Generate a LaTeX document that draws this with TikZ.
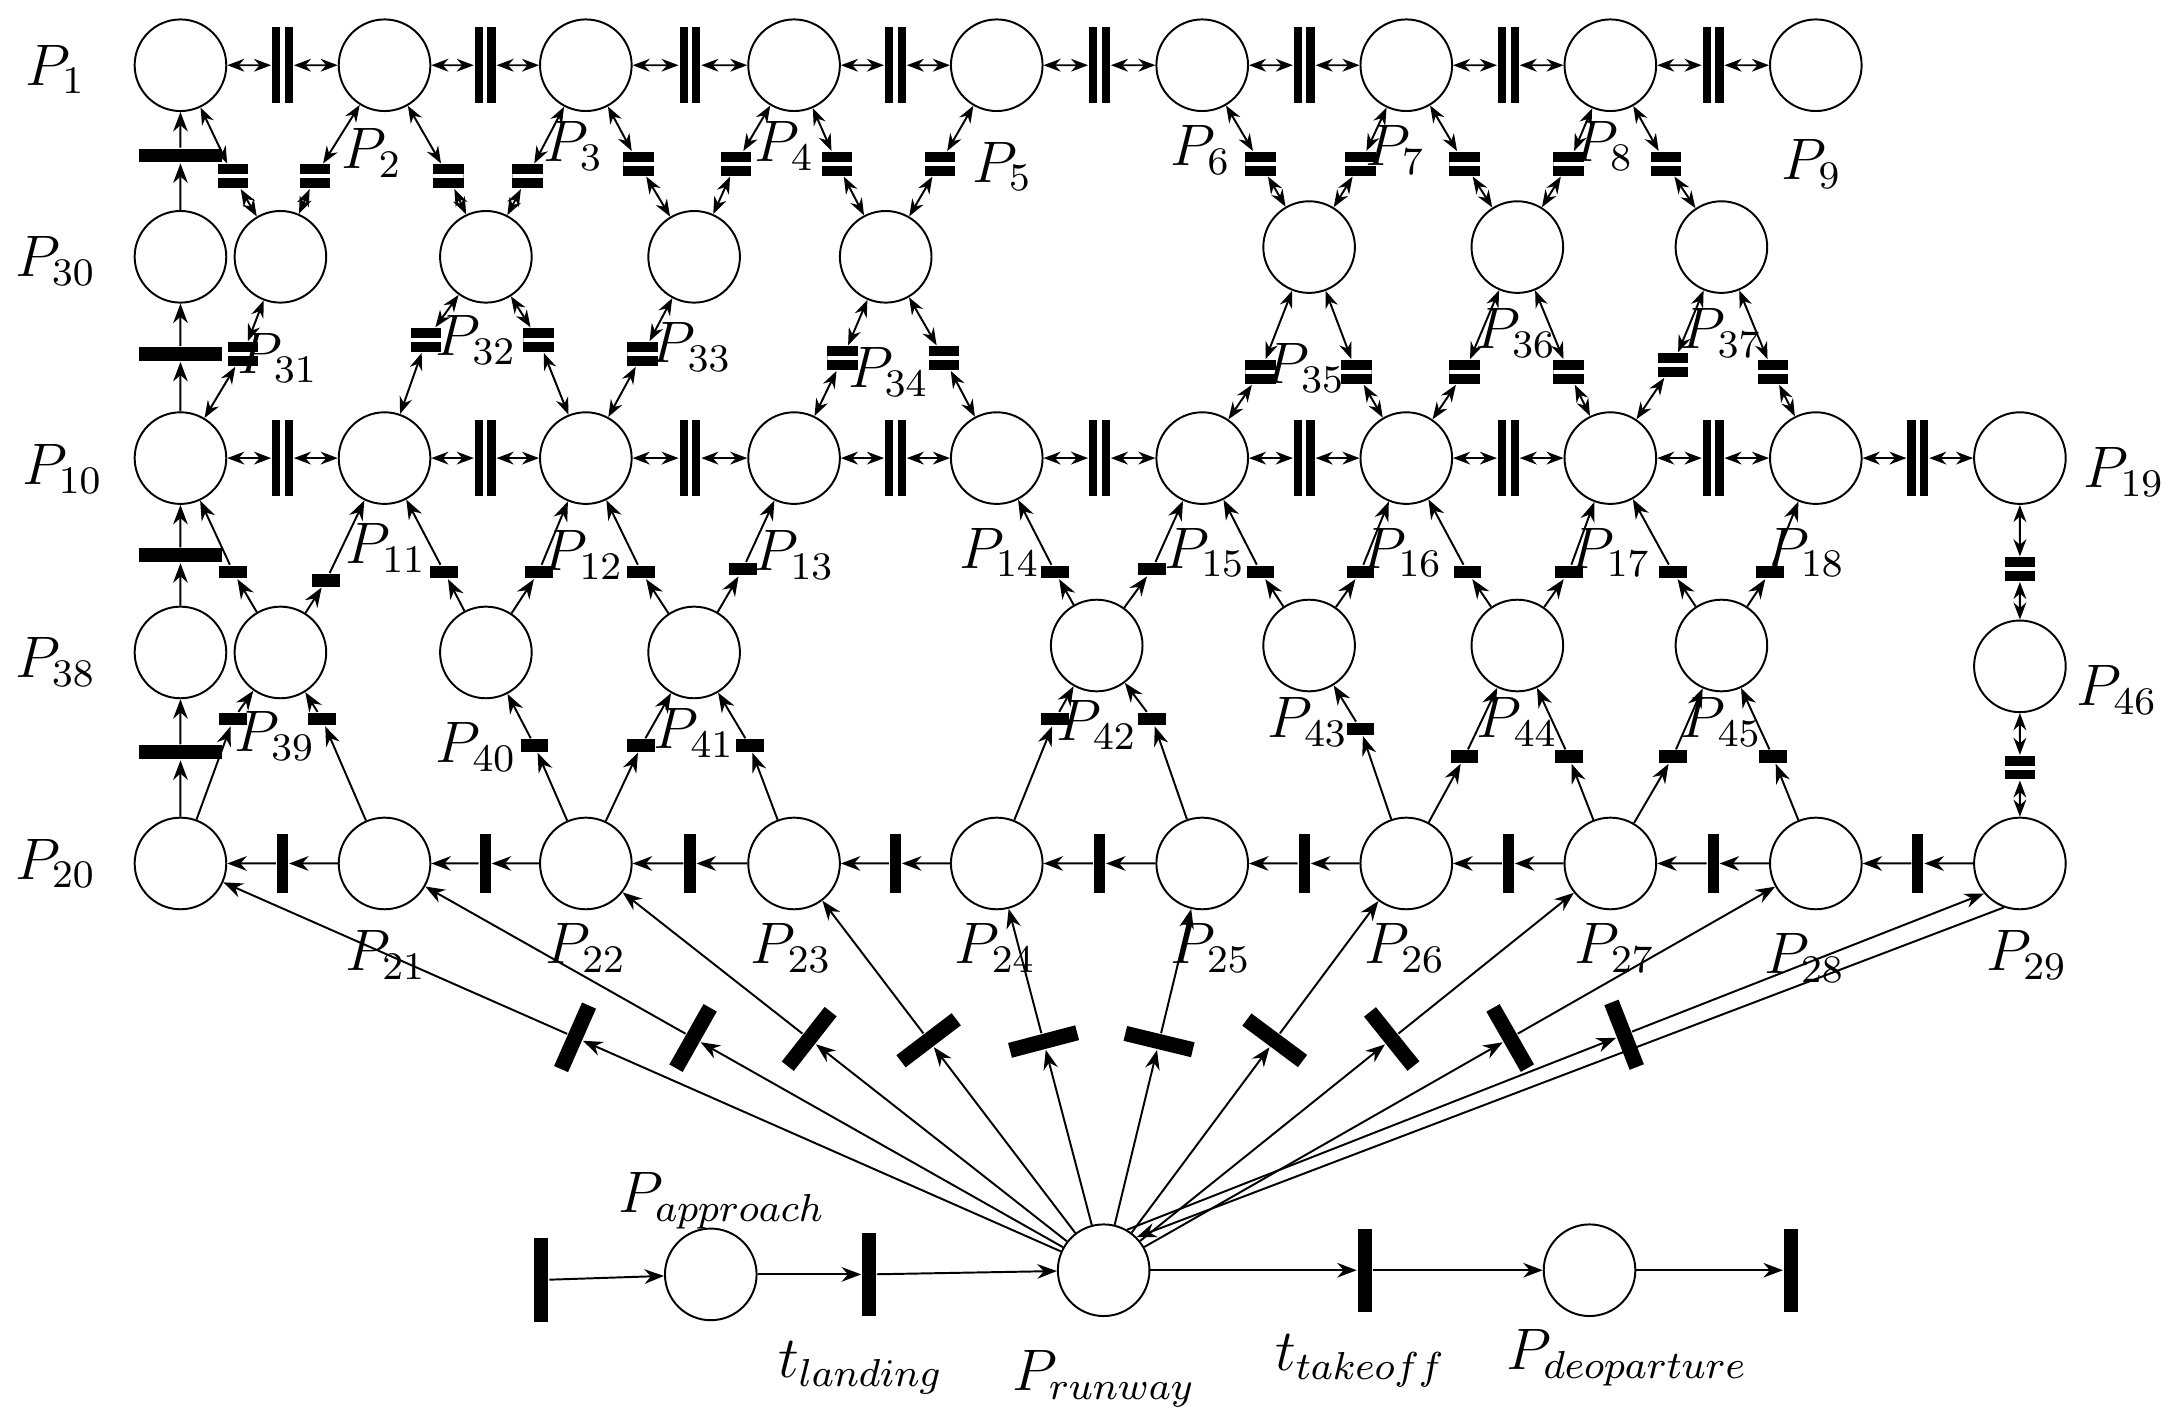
\documentclass[tikz,border=0pt]{standalone}
\usetikzlibrary{arrows.meta,calc}
\tikzset{
  place/.style={circle,draw,thin,minimum size=0.66cm,inner sep=0pt},
  tdbl/.style={rectangle,fill=black,minimum width=0.15cm,minimum height=0.55cm,inner sep=0pt,
    path picture={\draw[white,line width=0.9pt] (path picture bounding box.north) -- (path picture bounding box.south);}},
  tsq/.style={rectangle,fill=black,minimum width=0.22cm,minimum height=0.17cm,inner sep=0pt,
    path picture={\draw[white,line width=0.8pt] (path picture bounding box.west) -- (path picture bounding box.east);}},
  tsm/.style={rectangle,fill=black,minimum width=0.2cm,minimum height=0.09cm,inner sep=0pt},
  twide/.style={rectangle,fill=black,minimum width=0.6cm,minimum height=0.1cm,inner sep=0pt},
  tbar/.style={rectangle,fill=black,minimum width=0.08cm,minimum height=0.42cm,inner sep=0pt},
  fbar/.style={rectangle,fill=black,minimum width=0.11cm,minimum height=0.5cm,inner sep=0pt},
  bbar/.style={rectangle,fill=black,minimum width=0.1cm,minimum height=0.6cm,inner sep=0pt},
  lbl/.style={font=\large},
  arc/.style={thin,-{Stealth[length=4pt]}},
  barc/.style={thin,{Stealth[length=3.5pt]}-{Stealth[length=3.5pt]}}
}
\begin{document}
\begin{tikzpicture}
    \useasboundingbox (0,-10.2) rectangle (15.66,0);
    % Places
    \foreach \i/\x in {1/130,2/277,3/422,4/572,5/718,6/866,7/1013,8/1160,9/1308}
        \node[place] (p\i) at (\x/100,-0.47) {};
    \foreach \i/\x in {10/130,11/277,12/422,13/572,14/718,15/866,16/1013,17/1160,18/1308,19/1455}
        \node[place] (p\i) at (\x/100,-3.30) {};
    \foreach \i/\x in {20/130,21/277,22/422,23/572,24/718,25/866,26/1013,27/1160,28/1308,29/1455}
        \node[place] (p\i) at (\x/100,-6.22) {};
    \foreach \i/\x/\y in {30/130/185,31/202/185,32/350/185,33/500/185,34/638/185,35/943/178,36/1093/178,37/1240/178,
        38/130/470,39/202/470,40/350/470,41/500/470,42/790/465,43/943/465,44/1093/465,45/1240/465,46/1455/480}
        \node[place] (p\i) at (\x/100,-\y/100) {};
    \node[place] (pa) at (5.12,-9.18) {};
    \node[place] (pr) at (7.95,-9.15) {};
    \node[place] (pd) at (11.45,-9.15) {};

    % Horizontal rows
    \foreach \a/\b in {1/2,2/3,3/4,4/5,5/6,6/7,7/8,8/9,10/11,11/12,12/13,13/14,14/15,15/16,16/17,17/18,18/19} {
        \node[tdbl] (h\a) at ($(p\a)!0.5!(p\b)$) {};
        \draw[barc] (p\a) -- (h\a);
        \draw[barc] (h\a) -- (p\b);
    }
    \foreach \a/\b in {20/21,21/22,22/23,23/24,24/25,25/26,26/27,27/28,28/29} {
        \node[tbar] (r\a) at ($(p\a)!0.5!(p\b)$) {};
        \draw[arc] (p\b) -- (r\a);
        \draw[arc] (r\a) -- (p\a);
    }

    % Left column
    \node[twide] (v1) at (1.30,-1.12) {};
    \node[twide] (v2) at (1.30,-2.55) {};
    \node[twide] (v3) at (1.30,-4.00) {};
    \node[twide] (v4) at (1.30,-5.42) {};
    \draw[arc] (p30) -- (v1); \draw[arc] (v1) -- (p1);
    \draw[arc] (p10) -- (v2); \draw[arc] (v2) -- (p30);
    \draw[arc] (p38) -- (v3); \draw[arc] (v3) -- (p10);
    \draw[arc] (p20) -- (v4); \draw[arc] (v4) -- (p38);

    % Upper diamonds
    \foreach \u/\d/\x/\y in {1/31/168/127,2/31/227/127,2/32/323/127,3/32/380/127,3/33/460/118,4/33/530/118,
        4/34/603/118,5/34/677/118,6/35/908/118,7/35/980/118,7/36/1055/118,8/36/1130/118,8/37/1200/118,
        31/10/175/255,32/11/307/245,32/12/388/245,33/12/463/255,34/13/607/258,34/14/680/258,
        35/15/908/268,35/16/977/268,36/16/1055/268,36/17/1130/268,37/17/1205/263,37/18/1277/268} {
        \node[tsq] (d\u-\d) at (\x/100,-\y/100) {};
        \draw[barc] (p\u) -- (d\u-\d);
        \draw[barc] (d\u-\d) -- (p\d);
    }

    % Lower diamonds
    \foreach \u/\d/\x/\y in {10/39/168/412,11/39/235/418,11/40/320/412,12/40/388/412,12/41/462/412,13/41/535/410,
        14/42/760/412,15/42/830/410,15/43/908/412,16/43/980/412,16/44/1057/412,17/44/1130/412,17/45/1205/412,18/45/1275/412,
        39/20/168/518,39/21/232/518,40/22/385/537,41/22/462/537,41/23/540/537,42/24/760/518,42/25/830/518,
        43/26/980/525,44/26/1055/545,44/27/1130/545,45/27/1205/545,45/28/1277/545} {
        \node[tsm] (l\u-\d) at (\x/100,-\y/100) {};
        \draw[arc] (p\d) -- (l\u-\d);
        \draw[arc] (l\u-\d) -- (p\u);
    }

    % Right column
    \node[tsq] (d19-46) at (14.55,-4.10) {};
    \node[tsq] (d46-29) at (14.55,-5.53) {};
    \draw[barc] (p19) -- (d19-46); \draw[barc] (d19-46) -- (p46);
    \draw[barc] (p46) -- (d46-29); \draw[barc] (d46-29) -- (p29);

    % Runway fan
    \foreach \i in {20,...,28} {
        \path (pr) -- node[fbar,sloped,pos=0.58] (f\i) {} (p\i);
        \draw[arc] (pr) -- (f\i);
        \draw[arc] (f\i) -- (p\i);
    }
    \path (pr.60) -- node[fbar,sloped,pos=0.58] (f29) {} (p29.220);
    \draw[arc] (pr.60) -- (f29);
    \draw[arc] (f29) -- (p29.220);
    \draw[arc] (p29.250) -- (pr.45);

    % Bottom line
    \node[bbar] (b1) at (3.90,-9.22) {};
    \node[bbar] (b2) at (6.26,-9.18) {};
    \node[bbar] (b3) at (9.83,-9.15) {};
    \node[bbar] (b4) at (12.90,-9.15) {};
    \draw[arc] (b1) -- (pa); \draw[arc] (pa) -- (b2); \draw[arc] (b2) -- (pr);
    \draw[arc] (pr) -- (b3); \draw[arc] (b3) -- (pd); \draw[arc] (pd) -- (b4);

    % Labels
    \foreach \i/\x/\y in {1/40/50,2/268/110,3/413/105,4/565/105,5/722/120,6/865/108,7/1005/108,8/1155/105,9/1305/118,
        30/40/188,31/200/258,32/343/245,33/498/250,34/640/268,35/940/265,36/1092/240,37/1240/240,
        10/45/338,11/278/395,12/420/400,13/572/400,14/720/398,15/868/398,16/1010/398,17/1160/398,18/1300/398,19/1530/340,
        38/40/477,39/198/530,40/343/538,41/500/528,42/790/522,43/942/520,44/1093/520,45/1240/520,46/1525/497,
        20/40/622,21/278/688,22/422/683,23/570/683,24/717/683,25/872/683,26/1012/683,27/1163/683,28/1300/690,29/1460/688}
        \node[lbl] (n\i) at (\x/100,-\y/100) {$P_{\i}$};
    \node[lbl] (na) at (5.20,-8.65) {$P_{approach}$};
    \node[lbl] (nl) at (6.20,-9.85) {$t_{landing}$};
    \node[lbl] (nr) at (7.95,-9.93) {$P_{runway}$};
    \node[lbl] (nt) at (9.80,-9.80) {$t_{takeoff}$};
    \node[lbl] (nd) at (11.72,-9.78) {$P_{deoparture}$};
\end{tikzpicture}
\end{document}
